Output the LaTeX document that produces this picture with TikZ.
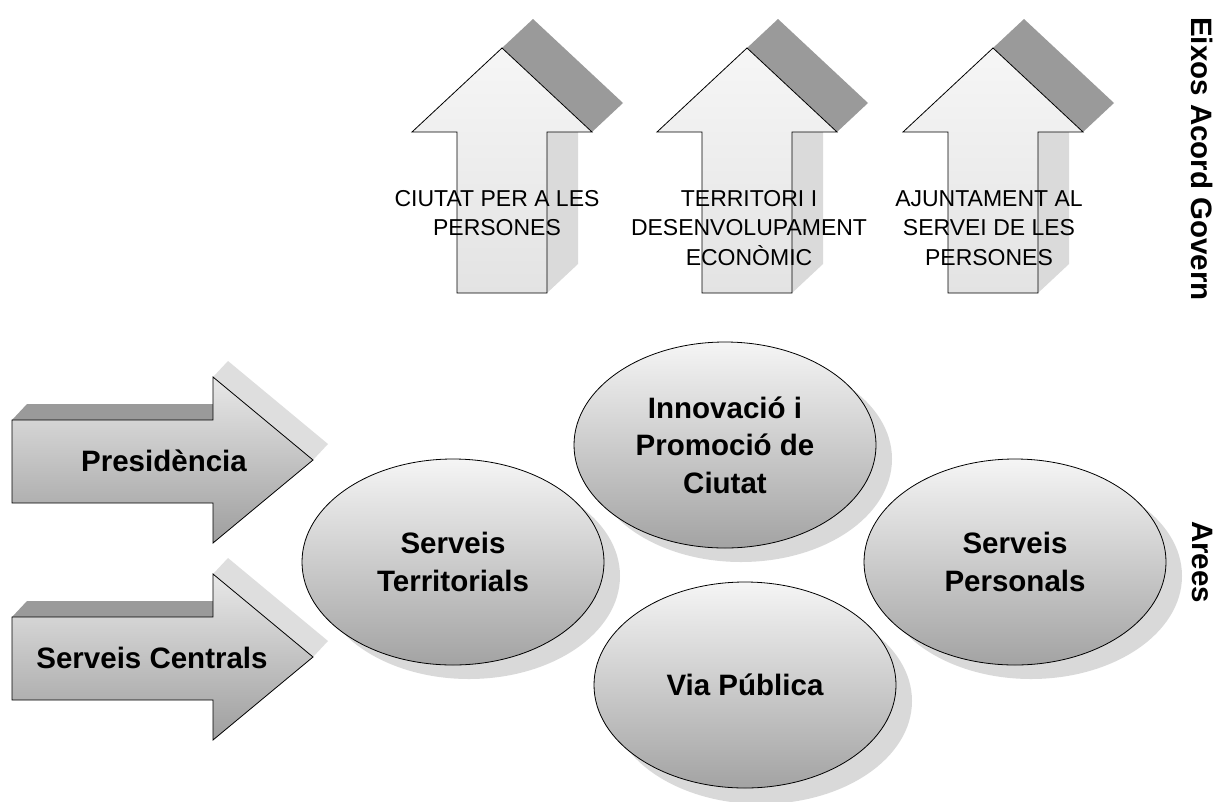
\documentclass[tikz,border=0pt]{standalone}
\usepackage{fontspec}
\setmainfont{Liberation Sans}
\usetikzlibrary{shapes.geometric}
\definecolor{darkface}{HTML}{9A9A9A}
\definecolor{lightface}{HTML}{DADADA}
\definecolor{bandface}{HTML}{DEDEDE}
\definecolor{shadowgray}{HTML}{D9D9D9}
\definecolor{uptop}{HTML}{F6F6F6}
\definecolor{upbot}{HTML}{E3E3E3}
\definecolor{hztop}{HTML}{E8E8E8}
\definecolor{hzbot}{HTML}{9E9E9E}
\definecolor{eltop}{HTML}{F5F5F5}
\definecolor{elbot}{HTML}{A3A3A3}
\begin{document}
\begin{tikzpicture}[x=1pt,y=-1pt,
  outline/.style={draw=black, line width=0.8pt},
  uptext/.style={font=\fontsize{23}{29.5}\selectfont, align=center, anchor=north, inner sep=0pt},
  boldlbl/.style={font=\fontsize{29.5}{37.5}\selectfont\bfseries, align=center, inner sep=0pt},
  ell/.style={ellipse, draw=black, line width=0.8pt, minimum width=302pt, minimum height=206pt,
    inner sep=0pt, top color=eltop, bottom color=elbot, boldlbl},
  ellshadow/.style={ellipse, fill=shadowgray, minimum width=302pt, minimum height=206pt, inner sep=0pt}]
\useasboundingbox (0,0) rectangle (1223,801);

% ---- up arrows
\foreach \cx in {502,747,993}{
  \fill[lightface] (\cx+45,132) -- (\cx+45,293) -- (\cx+76,264) -- (\cx+76,103) -- cycle;
  \fill[darkface] (\cx,48) -- (\cx+90,132) -- (\cx+121,103) -- (\cx+31,19) -- cycle;
  \draw[outline, top color=uptop, bottom color=upbot]
    (\cx,48) -- (\cx+90,132) -- (\cx+45,132) -- (\cx+45,293) -- (\cx-45,293)
    -- (\cx-45,132) -- (\cx-90,132) -- cycle;
}
\node[uptext] (t1) at (497,190) {CIUTAT PER A LES\\PERSONES};
\node[uptext] (t2) at (749,190) {TERRITORI I\\DESENVOLUPAMENT\\ECONÒMIC};
\node[uptext] (t3) at (989,190) {AJUNTAMENT AL\\SERVEI DE LES\\PERSONES};

% ---- horizontal arrows
\foreach \cy in {460,657}{
  \fill[bandface] (213,\cy-83) -- (228,\cy-99) -- (328,\cy-16) -- (313,\cy) -- cycle;
  \fill[darkface] (12,\cy-40) -- (27,\cy-56) -- (213,\cy-56) -- (213,\cy-40) -- cycle;
  \draw[outline, top color=hztop, bottom color=hzbot]
    (12,\cy-40) -- (213,\cy-40) -- (213,\cy-83) -- (313,\cy) -- (213,\cy+83)
    -- (213,\cy+43) -- (12,\cy+43) -- cycle;
}
\node[boldlbl] (pres) at (164,461) {Presidència};
\node[boldlbl] (sc) at (152,658) {Serveis Centrals};

% ---- ellipses
\node[ellshadow] (sts) at (469,576) {};
\node[ellshadow] (ins) at (741,459) {};
\node[ellshadow] (vps) at (761,701) {};
\node[ellshadow] (sps) at (1031,576) {};
\node[ell] (st) at (453,562) {Serveis\\Territorials};
\node[ell] (in) at (725,445) {Innovació i\\Promoció de\\Ciutat};
\node[ell] (vp) at (745,685) {Via Pública};
\node[ell] (sp) at (1015,562) {Serveis\\Personals};

% ---- side labels
\node[boldlbl, rotate=-90] (eixos) at (1202,159) {Eixos Acord Govern};
\node[boldlbl, rotate=-90] (arees) at (1202,562) {Arees};
\end{tikzpicture}
\end{document}
